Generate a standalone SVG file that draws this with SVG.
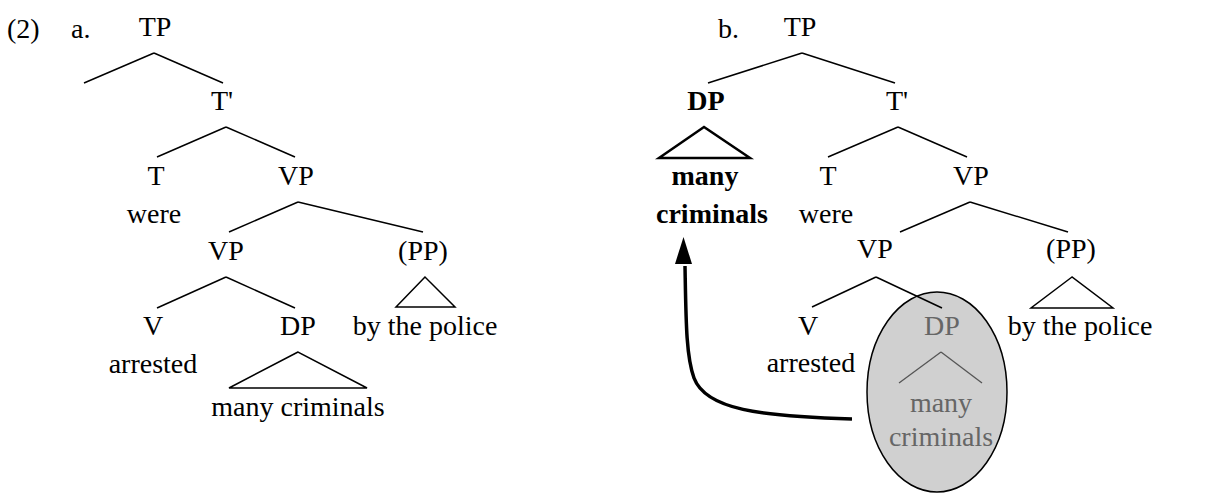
<svg xmlns="http://www.w3.org/2000/svg" width="1213" height="493" viewBox="0 0 1213 493" font-family="'Liberation Serif', 'Times New Roman', serif" font-size="28">
<style>
text{font-family:"Liberation Serif","Times New Roman",serif;font-size:28px;fill:#000;text-anchor:middle}
.l{text-anchor:start}
.b{font-weight:bold}
.g{fill:#666}
.e line,.e polygon{stroke:#000;stroke-width:1.5;fill:none}
.gl{stroke:#555;stroke-width:1.3;fill:none}
</style>
<rect width="1213" height="493" fill="#fff"/>
<g id="labels">
<text class="l" x="7" y="38">(2)</text>
<text class="l" x="71" y="38">a.</text>
<text class="l" x="718" y="38">b.</text>
</g>
<g id="trace">
<ellipse cx="937" cy="392" rx="70" ry="100" fill="#d0d0d0" stroke="#000" stroke-width="1.5"/>
<line class="gl" x1="941" y1="352" x2="899" y2="383"/>
<line class="gl" x1="941" y1="352" x2="982" y2="383"/>
<text class="g" x="941" y="412">many</text>
<text class="g" x="941" y="446">criminals</text>
<text class="g" x="942" y="335">DP</text>
</g>
<g id="connectors" class="e">
<line x1="154" y1="53" x2="84" y2="83"/>
<line x1="154" y1="53" x2="223" y2="83"/>
<line x1="226" y1="127" x2="157" y2="157"/>
<line x1="226" y1="127" x2="295" y2="157"/>
<line x1="298" y1="202" x2="229" y2="232"/>
<line x1="298" y1="202" x2="423" y2="232"/>
<line x1="226" y1="277" x2="157" y2="308"/>
<line x1="226" y1="277" x2="295" y2="308"/>
<polygon points="298,352 229,388 367,388"/>
<polygon points="425,277 396,307 455,307"/>
<line x1="802" y1="53" x2="708" y2="83"/>
<line x1="802" y1="53" x2="895" y2="83"/>
<polygon points="704,127 659,158 750,158" style="stroke-width:2.5"/>
<line x1="898" y1="127" x2="828" y2="157"/>
<line x1="898" y1="127" x2="967" y2="157"/>
<line x1="970" y1="202" x2="900" y2="232"/>
<line x1="970" y1="202" x2="1068" y2="232"/>
<line x1="876" y1="277" x2="812" y2="307"/>
<line x1="876" y1="277" x2="942" y2="308"/>
<polygon points="1072,277 1031,308 1113,308"/>
</g>
<g id="movement">
<path d="M852,419 C760,416 706,410 694,378 C686,356 686,320 685,266" fill="none" stroke="#000" stroke-width="3.5"/>
<path d="M675,264 L683.5,237 L692,264 Z" fill="#000"/>
</g>
<g id="tree-a">
<text x="155" y="36">TP</text>
<text x="222" y="110">T'</text>
<text x="156" y="185">T</text>
<text x="154" y="223">were</text>
<text x="296" y="185">VP</text>
<text x="226" y="260">VP</text>
<text x="423" y="260">(PP)</text>
<text x="153" y="335">V</text>
<text x="153" y="373">arrested</text>
<text x="298" y="335">DP</text>
<text x="298" y="416">many criminals</text>
<text x="425" y="335">by the police</text>
</g>
<g id="tree-b">
<text x="800" y="36">TP</text>
<text class="b" x="706" y="110">DP</text>
<text class="b" x="705" y="185">many</text>
<text class="b" x="712" y="223">criminals</text>
<text x="897" y="110">T'</text>
<text x="828" y="185">T</text>
<text x="826" y="223">were</text>
<text x="971" y="185">VP</text>
<text x="875" y="258">VP</text>
<text x="1071" y="258">(PP)</text>
<text x="808" y="335">V</text>
<text x="811" y="372">arrested</text>
<text x="1080" y="335">by the police</text>
</g>
</svg>
